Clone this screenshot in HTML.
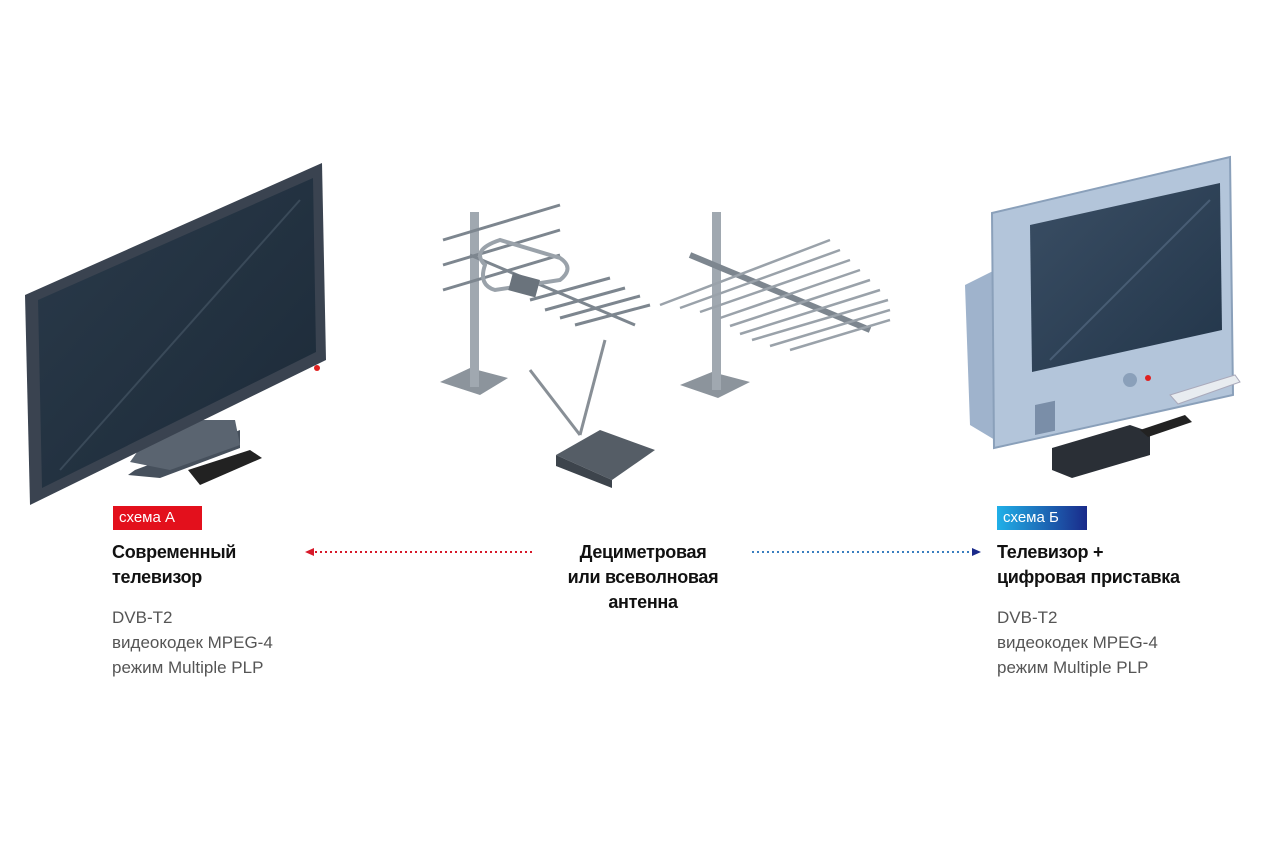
<!DOCTYPE html>
<html><head><meta charset="utf-8"><style>
body{margin:0;background:#fff;width:1280px;height:850px;position:relative;overflow:hidden;font-family:"Liberation Sans","DejaVu Sans",sans-serif}
.t{position:absolute;white-space:nowrap}
.b{font-weight:bold;font-size:18px;color:#111;line-height:25px;letter-spacing:-0.3px}
.l{font-size:17px;color:#555;line-height:25px}
.badge{position:absolute;color:#fff;font-size:15px;line-height:24px;padding:0 6px;height:24px}
</style></head><body>
<svg width="1280" height="850" style="position:absolute;left:0;top:0">
<defs>
<linearGradient id="scr" x1="0" y1="0" x2="1" y2="1"><stop offset="0" stop-color="#2a3a4a"/><stop offset="1" stop-color="#1c2a38"/></linearGradient>
<linearGradient id="scr2" x1="0" y1="0" x2="1" y2="1"><stop offset="0" stop-color="#3a4e64"/><stop offset="1" stop-color="#23364a"/></linearGradient>
</defs>
<!-- Left TV -->
<polygon points="135,470 215,440 240,430 240,448 160,478 128,475" fill="#46505c"/>
<polygon points="160,420 235,420 240,445 170,470 130,462" fill="#5a6470"/>
<polygon points="25,295 322,163 326,360 30,505" fill="#3a4350"/>
<polygon points="38,300 313,178 316,352 42,488" fill="url(#scr)"/>
<line x1="60" y1="470" x2="300" y2="200" stroke="#4a5a6a" stroke-width="2" opacity=".6"/>
<circle cx="317" cy="368" r="3" fill="#e02020"/>
<polygon points="188,470 250,450 262,458 200,485" fill="#222"/>
<!-- Antenna 1 -->
<polygon points="440,382 470,368 508,378 480,395" fill="#8c949c"/>
<rect x="470" y="212" width="9" height="175" fill="#a0a8b0"/>
<g stroke="#7d868f" stroke-width="3">
<line x1="443" y1="240" x2="560" y2="205"/><line x1="443" y1="265" x2="560" y2="230"/><line x1="443" y1="290" x2="560" y2="255"/>
<line x1="470" y1="255" x2="635" y2="325"/>
<line x1="530" y1="300" x2="610" y2="278"/><line x1="545" y1="310" x2="625" y2="288"/><line x1="560" y1="318" x2="640" y2="296"/><line x1="575" y1="325" x2="650" y2="305"/>
</g>
<path d="M485,265 Q470,250 500,240 L560,258 Q575,268 560,280 L495,290 Q478,285 485,265Z" fill="none" stroke="#9aa2aa" stroke-width="4"/>
<rect x="510" y="275" width="28" height="18" fill="#6a737c" transform="rotate(15 520 285)"/>
<!-- indoor antenna -->
<polygon points="556,455 600,430 655,450 612,480" fill="#555d66"/>
<polygon points="556,455 612,480 612,488 556,466" fill="#3d444c"/>
<g stroke="#888f96" stroke-width="3"><line x1="580" y1="435" x2="530" y2="370"/><line x1="580" y1="435" x2="605" y2="340"/></g>
<!-- Antenna 2 -->
<polygon points="680,385 712,372 750,382 718,398" fill="#8c949c"/>
<rect x="712" y="212" width="9" height="178" fill="#a0a8b0"/>
<line x1="690" y1="255" x2="870" y2="330" stroke="#7d868f" stroke-width="6"/>
<g stroke="#9aa2aa" stroke-width="2.5">
<line x1="660" y1="305" x2="830" y2="240"/><line x1="680" y1="308" x2="840" y2="250"/><line x1="700" y1="312" x2="850" y2="260"/><line x1="720" y1="318" x2="860" y2="270"/><line x1="730" y1="326" x2="870" y2="280"/><line x1="740" y1="334" x2="880" y2="290"/><line x1="752" y1="340" x2="888" y2="300"/><line x1="770" y1="346" x2="890" y2="310"/><line x1="790" y1="350" x2="890" y2="320"/>
</g>
<!-- Right TV -->
<polygon points="965,285 995,270 995,440 970,425" fill="#9fb3cc"/>
<polygon points="992,213 1230,157 1233,395 994,448" fill="#b3c5da" stroke="#8aa0ba" stroke-width="2"/>
<polygon points="1030,225 1220,183 1222,330 1032,372" fill="url(#scr2)"/>
<line x1="1050" y1="360" x2="1210" y2="200" stroke="#5a7088" stroke-width="2" opacity=".6"/>
<circle cx="1130" cy="380" r="7" fill="#8aa0ba"/><circle cx="1148" cy="378" r="3" fill="#e02020"/>
<rect x="1035" y="405" width="20" height="30" fill="#7a8ea8" transform="skewY(-12) translate(0,220)"/>
<polygon points="1052,448 1130,425 1150,432 1150,455 1072,478 1052,470" fill="#2a2f36"/>
<polygon points="1170,395 1235,375 1240,382 1178,404" fill="#e8ecf0" stroke="#aab" />
<polygon points="1140,430 1185,415 1192,422 1148,437" fill="#222"/>
<!-- arrows -->
<line x1="315" y1="552" x2="535" y2="552" stroke="#d7192a" stroke-width="2" stroke-dasharray="2 3"/>
<polygon points="305,552 314,548 314,556" fill="#d7192a"/>
<line x1="752" y1="552" x2="972" y2="552" stroke="#3a7fc0" stroke-width="2" stroke-dasharray="2 3"/>
<polygon points="981,552 972,548 972,556" fill="#1a2a8a"/>
</svg>
<div class="badge" style="left:113px;top:506px;background:#e3101c;width:77px">схема А</div>
<div class="badge" style="left:997px;top:506px;background:linear-gradient(90deg,#20b0e8,#1a2a8a);width:78px">схема Б</div>
<div class="t b" style="left:112px;top:540px">Современный<br>телевизор</div>
<div class="t l" style="left:112px;top:605px">DVB-T2<br>видеокодек MPEG-4<br>режим Multiple PLP</div>
<div class="t b" style="left:543px;top:540px;width:200px;text-align:center">Дециметровая<br>или всеволновая<br>антенна</div>
<div class="t b" style="left:997px;top:540px">Телевизор +<br>цифровая приставка</div>
<div class="t l" style="left:997px;top:605px">DVB-T2<br>видеокодек MPEG-4<br>режим Multiple PLP</div>
</body></html>
